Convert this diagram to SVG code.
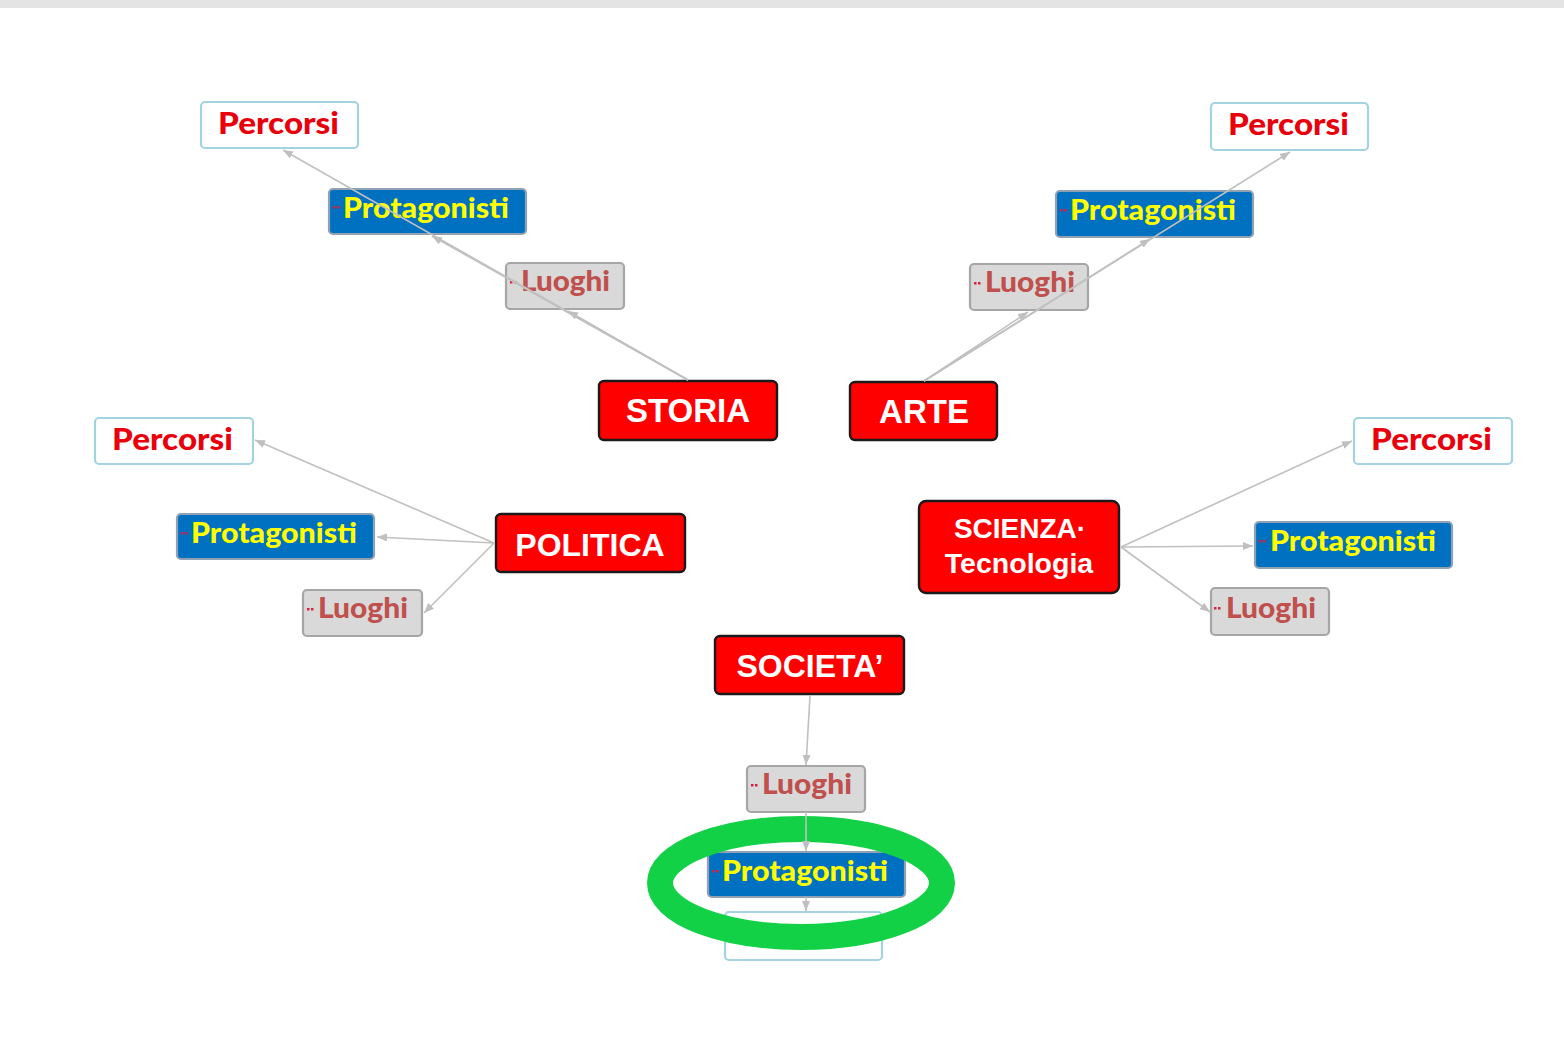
<svg xmlns="http://www.w3.org/2000/svg" width="1564" height="1046" viewBox="0 0 1564 1046">
<defs>
<style>
.main rect{fill:#ff0000;stroke:#1a1a1a;stroke-width:2.4}
.main text{font-family:"Liberation Sans",Arial,sans-serif;font-weight:bold;fill:#ffffff;text-anchor:middle}
.perc rect{fill:#ffffff;stroke:#a3d3df;stroke-width:2.2}
.perc text{font-family:Lato,"Open Sans",sans-serif;font-weight:900;fill:#e8000b;font-size:30px}
.prot rect{fill:#0070c0;stroke:#8fa1b3;stroke-width:2.2}
.prot text{font-family:Lato,"Open Sans",sans-serif;font-weight:900;fill:#ffff00;font-size:28px}
.luo rect{fill:#d9d9d9;stroke:#a6a6a6;stroke-width:2.2}
.luo text{font-family:Lato,"Open Sans",sans-serif;font-weight:900;fill:#c0504d;font-size:28px}
g rect.dot{fill:#d9203f;stroke:none}
.conn line{stroke:#c0c0c0;stroke-width:1.6;fill:none}
</style>
<marker id="ah" markerUnits="userSpaceOnUse" markerWidth="12" markerHeight="10" refX="10" refY="4" orient="auto">
<path d="M0,0 L10,4 L0,8 Z" fill="#bfbfbf"/>
</marker>
</defs>
<rect x="0" y="0" width="1564" height="1046" fill="#ffffff"/>
<rect x="0" y="0" width="1564" height="8" fill="#e4e4e4"/>

<!-- STORIA branch -->
<g id="storia" class="main"><rect x="599" y="381" width="178" height="59" rx="5"/><text x="688" y="422" font-size="33">STORIA</text></g>
<g id="storia-percorsi" class="perc"><rect x="201" y="102" width="157" height="46" rx="4"/><text x="218" y="134" textLength="121" lengthAdjust="spacingAndGlyphs">Percorsi</text></g>
<g id="storia-protagonisti" class="prot"><rect x="329" y="189" width="197" height="45" rx="4"/><rect class="dot" x="333" y="206" width="2.5" height="2.5"/><rect class="dot" x="337" y="206" width="2.5" height="2.5"/><text x="343" y="218" textLength="166" lengthAdjust="spacingAndGlyphs">Protagonisti</text></g>
<g id="storia-luoghi" class="luo"><rect x="506" y="263" width="118" height="46" rx="4"/><rect class="dot" x="510" y="281" width="2.5" height="2.5"/><rect class="dot" x="514" y="281" width="2.5" height="2.5"/><text x="521" y="291" textLength="89" lengthAdjust="spacingAndGlyphs">Luoghi</text></g>

<!-- ARTE branch -->
<g id="arte" class="main"><rect x="850" y="382" width="147" height="58" rx="5"/><text x="924" y="423" font-size="33">ARTE</text></g>
<g id="arte-percorsi" class="perc"><rect x="1211" y="103" width="157" height="47" rx="4"/><text x="1228" y="135" textLength="121" lengthAdjust="spacingAndGlyphs">Percorsi</text></g>
<g id="arte-protagonisti" class="prot"><rect x="1056" y="191" width="197" height="46" rx="4"/><rect class="dot" x="1060" y="209" width="2.5" height="2.5"/><rect class="dot" x="1064" y="209" width="2.5" height="2.5"/><text x="1070" y="220" textLength="166" lengthAdjust="spacingAndGlyphs">Protagonisti</text></g>
<g id="arte-luoghi" class="luo"><rect x="970" y="264" width="118" height="46" rx="4"/><rect class="dot" x="974" y="282" width="2.5" height="2.5"/><rect class="dot" x="978" y="282" width="2.5" height="2.5"/><text x="985" y="292" textLength="90" lengthAdjust="spacingAndGlyphs">Luoghi</text></g>

<!-- POLITICA branch -->
<g id="politica" class="main"><rect x="496" y="514" width="189" height="58" rx="5"/><text x="590" y="556" font-size="32">POLITICA</text></g>
<g id="politica-percorsi" class="perc"><rect x="95" y="418" width="158" height="46" rx="4"/><text x="112" y="450" textLength="121" lengthAdjust="spacingAndGlyphs">Percorsi</text></g>
<g id="politica-protagonisti" class="prot"><rect x="177" y="514" width="197" height="45" rx="4"/><rect class="dot" x="181" y="532" width="2.5" height="2.5"/><rect class="dot" x="185" y="532" width="2.5" height="2.5"/><text x="191" y="543" textLength="166" lengthAdjust="spacingAndGlyphs">Protagonisti</text></g>
<g id="politica-luoghi" class="luo"><rect x="303" y="590" width="119" height="46" rx="4"/><rect class="dot" x="307" y="608" width="2.5" height="2.5"/><rect class="dot" x="311" y="608" width="2.5" height="2.5"/><text x="318" y="618" textLength="90" lengthAdjust="spacingAndGlyphs">Luoghi</text></g>

<!-- SCIENZA branch -->
<g id="scienza" class="main"><rect x="919" y="501" width="200" height="92" rx="7"/><text x="1020" y="538" font-size="28">SCIENZA·</text><text x="1019" y="573" font-size="28.5">Tecnologia</text></g>
<g id="scienza-percorsi" class="perc"><rect x="1354" y="418" width="158" height="46" rx="4"/><text x="1371" y="450" textLength="121" lengthAdjust="spacingAndGlyphs">Percorsi</text></g>
<g id="scienza-protagonisti" class="prot"><rect x="1255" y="522" width="197" height="46" rx="4"/><rect class="dot" x="1259" y="540" width="2.5" height="2.5"/><rect class="dot" x="1263" y="540" width="2.5" height="2.5"/><text x="1270" y="551" textLength="166" lengthAdjust="spacingAndGlyphs">Protagonisti</text></g>
<g id="scienza-luoghi" class="luo"><rect x="1211" y="588" width="118" height="47" rx="4"/><rect class="dot" x="1214" y="607" width="2.5" height="2.5"/><rect class="dot" x="1218" y="607" width="2.5" height="2.5"/><text x="1226" y="618" textLength="90" lengthAdjust="spacingAndGlyphs">Luoghi</text></g>

<!-- SOCIETA' branch -->
<g id="societa" class="main"><rect x="715" y="636" width="189" height="58" rx="5"/><text x="810" y="677" font-size="32">SOCIETA’</text></g>
<g id="societa-luoghi" class="luo"><rect x="747" y="766" width="118" height="46" rx="4"/><rect class="dot" x="751" y="784" width="2.5" height="2.5"/><rect class="dot" x="755" y="784" width="2.5" height="2.5"/><text x="762" y="794" textLength="90" lengthAdjust="spacingAndGlyphs">Luoghi</text></g>
<g id="societa-percorsi" class="perc"><rect x="725" y="912" width="157" height="48" rx="4"/></g>
<g id="societa-protagonisti" class="prot"><rect x="708" y="852" width="197" height="45" rx="4"/><rect class="dot" x="712" y="870" width="2.5" height="2.5"/><rect class="dot" x="716" y="870" width="2.5" height="2.5"/><text x="722" y="881" textLength="166" lengthAdjust="spacingAndGlyphs">Protagonisti</text></g>

<ellipse id="highlight" cx="801" cy="883" rx="141" ry="54" fill="none" stroke="#12d146" stroke-width="26"/>

<g id="connectors" class="conn">
<line x1="688" y1="380" x2="568" y2="311" marker-end="url(#ah)"/>
<line x1="688" y1="380" x2="432" y2="236" marker-end="url(#ah)"/>
<line x1="688" y1="380" x2="283" y2="150" marker-end="url(#ah)"/>
<line x1="924" y1="381" x2="1028" y2="312" marker-end="url(#ah)"/>
<line x1="924" y1="381" x2="1150" y2="239" marker-end="url(#ah)"/>
<line x1="924" y1="381" x2="1290" y2="152" marker-end="url(#ah)"/>
<line x1="494" y1="543" x2="255" y2="440" marker-end="url(#ah)"/>
<line x1="494" y1="543" x2="377" y2="537" marker-end="url(#ah)"/>
<line x1="494" y1="543" x2="424" y2="613" marker-end="url(#ah)"/>
<line x1="1121" y1="547" x2="1352" y2="441" marker-end="url(#ah)"/>
<line x1="1121" y1="547" x2="1253" y2="546" marker-end="url(#ah)"/>
<line x1="1121" y1="547" x2="1210" y2="612" marker-end="url(#ah)"/>
<line x1="810" y1="696" x2="806" y2="765" marker-end="url(#ah)"/>
<line x1="806" y1="812" x2="806" y2="851" marker-end="url(#ah)"/>
<line x1="806" y1="897" x2="806" y2="911" marker-end="url(#ah)"/>
</g>
</svg>
